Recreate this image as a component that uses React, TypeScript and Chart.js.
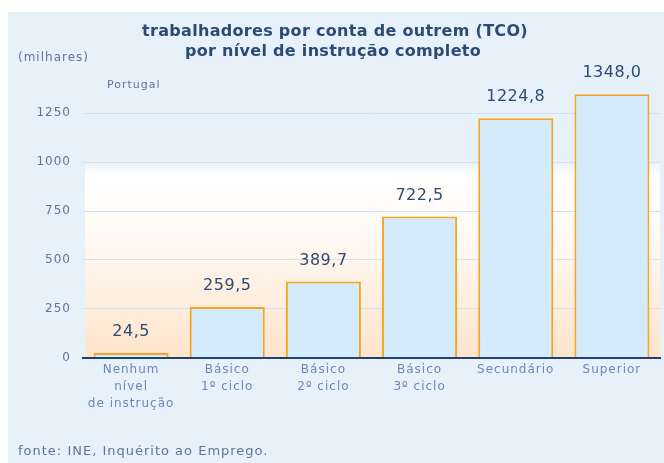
import React, { useEffect, useRef } from "react";
import { Chart, registerables } from "chart.js";

Chart.register(...registerables);

const categories: (string | string[])[] = [
  ["Nenhum", "nível", "de instrução"],
  ["Básico", "1º ciclo"],
  ["Básico", "2º ciclo"],
  ["Básico", "3º ciclo"],
  "Secundário",
  "Superior",
];
const values = [24.5, 259.5, 389.7, 722.5, 1224.8, 1348.0];
const yTicks = [0, 250, 500, 750, 1000, 1250];
const titleLines = ["trabalhadores por conta de outrem (TCO)", "por nível de instrução completo"];
const unitLabel = "(milhares)";
const regionLabel = "Portugal";
const sourceLabel = "fonte: INE, Inquérito ao Emprego.";

const BG = "#e7f1fa";
const NAVY = "#2d4a75";
const TICK = "#5f7598";
const XLAB = "#6b88b8";
const FONT = "'DejaVu Sans', sans-serif";

const decorPlugin = {
  id: "decor",
  beforeDraw(chart: any) {
    const { ctx, width, height, chartArea } = chart;
    ctx.save();
    ctx.fillStyle = "#ffffff";
    ctx.fillRect(0, 0, width, height);
    ctx.fillStyle = BG;
    ctx.fillRect(8, 12, width - 8, height - 12);
    const top = 160;
    const g = ctx.createLinearGradient(0, top, 0, chartArea.bottom);
    g.addColorStop(0, BG);
    g.addColorStop(0.08, "#ffffff");
    g.addColorStop(0.4, "#fff9f3");
    g.addColorStop(1, "#fde4cb");
    ctx.fillStyle = g;
    ctx.fillRect(chartArea.left + 2, top, chartArea.right - chartArea.left - 2, chartArea.bottom - top);
    ctx.restore();
    (ctx as any).letterSpacing = "1px";
  },
  afterDraw(chart: any) {
    const { ctx } = chart;
    ctx.save();
    ctx.textAlign = "center";
    ctx.textBaseline = "middle";
    ctx.fillStyle = NAVY;
    (ctx as any).letterSpacing = "0.3px";
    ctx.font = "bold 16px " + FONT;
    ctx.fillText(titleLines[0], 335, 32);
    ctx.fillText(titleLines[1], 333, 52);
    ctx.textAlign = "left";
    ctx.fillStyle = TICK;
    (ctx as any).letterSpacing = "1px";
    ctx.font = "12px " + FONT;
    ctx.fillText(unitLabel, 18, 58);
    ctx.font = "11px " + FONT;
    ctx.fillText(regionLabel, 107, 85);
    (ctx as any).letterSpacing = "1px";
    ctx.font = "13px " + FONT;
    ctx.fillText(sourceLabel, 18, 452);
    const meta = chart.getDatasetMeta(0);
    ctx.textAlign = "center";
    ctx.fillStyle = NAVY;
    (ctx as any).letterSpacing = "0.5px";
    ctx.font = "16px " + FONT;
    meta.data.forEach((bar: any, i: number) => {
      ctx.fillText(values[i].toFixed(1).replace(".", ","), bar.x, bar.y - 21);
    });
    ctx.restore();
    (ctx as any).letterSpacing = "0px";
  },
};

export default function App() {
  const ref = useRef<HTMLCanvasElement>(null);
  useEffect(() => {
    document.body.style.margin = "0";
    const chart = new Chart(ref.current!, {
      type: "bar",
      data: {
        labels: categories,
        datasets: [
          {
            data: values,
            backgroundColor: "#d3ebfb",
            borderColor: "#f5a524",
            borderWidth: 2,
            barPercentage: 0.78,
            categoryPercentage: 1,
          },
        ],
      },
      options: {
        animation: false,
        responsive: false,
        layout: { padding: { left: 0, right: 4, top: 84, bottom: 0 } },
        plugins: { legend: { display: false }, tooltip: { enabled: false } },
        scales: {
          x: {
            grid: { display: false, drawTicks: false },
            border: { color: "#1f3f73", width: 2 },
            ticks: {
              color: XLAB,
              font: { family: FONT, size: 12, lineHeight: 1.45 },
              padding: 3,
              maxRotation: 0,
              autoSkip: false,
            },
            afterFit(scale: any) {
              scale.height = 105.3;
            },
          },
          y: {
            min: 0,
            max: 1400,
            border: { display: false },
            grid: { color: "#cfe3f4", drawTicks: false, lineWidth: 1 },
            ticks: {
              stepSize: 250,
              color: TICK,
              padding: 12,
              font: { family: FONT, size: 12 },
              callback: (v: any) => String(v),
            },
            afterBuildTicks(scale: any) {
              scale.ticks = yTicks.map((v) => ({ value: v }));
            },
            afterFit(scale: any) {
              scale.width = 83;
            },
          },
        },
      },
      plugins: [decorPlugin],
    });
    return () => chart.destroy();
  }, []);
  return <canvas ref={ref} width={664} height={463} style={{ display: "block" }} />;
}
